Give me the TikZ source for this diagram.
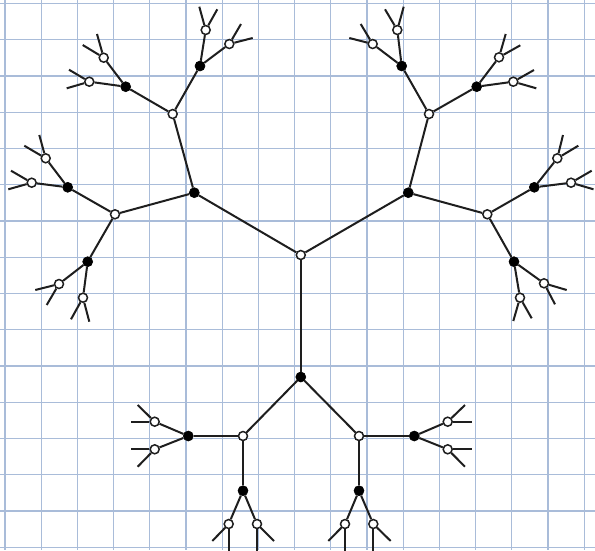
\documentclass[tikz,border=0pt]{standalone}
\usepackage{tikz}
\definecolor{gridblue}{HTML}{A9BCD9}
\definecolor{ink}{HTML}{1E1E1E}
\begin{document}
\begin{tikzpicture}[x=1pt,y=-1pt,
  wn/.style={circle,draw=ink,line width=1.5pt,fill=white,minimum size=9pt,inner sep=0pt},
  bn/.style={circle,fill=black,draw=black,line width=0.6pt,minimum size=10pt,inner sep=0pt},
  edge/.style={draw=ink,line width=2pt},
  gridline/.style={draw=gridblue,line width=1.1pt}]
\useasboundingbox (0,0) rectangle (595,550);
\fill[white] (0,0) rectangle (595,550);
% grid
\foreach \i in {0,...,16} \draw[gridline] ({5+36.2*\i},0) -- ({5+36.2*\i},550);
\foreach \j in {0,...,15} \draw[gridline] (0,{3.5+36.25*\j}) -- (595,{3.5+36.25*\j});
% ---------- nodes ----------
\node[wn] (r) at (300.8,255) {};
\node[bn] (d) at (300.8,377) {};
% bottom
\node[wn] (dl) at (243,436) {};
\node[wn] (dr) at (359,436) {};
\node[bn] (dll) at (188.3,436) {};
\node[bn] (dld) at (243,490.7) {};
\node[bn] (drr) at (414.3,436) {};
\node[bn] (drd) at (359,490.7) {};
\node[wn] (q1) at (154.7,421.7) {};
\node[wn] (q2) at (154.7,449.3) {};
\node[wn] (q3) at (228.7,524) {};
\node[wn] (q4) at (257,524) {};
\node[wn] (q5) at (447.7,421.7) {};
\node[wn] (q6) at (447.7,449.3) {};
\node[wn] (q7) at (345,524) {};
\node[wn] (q8) at (373.3,524) {};
\coordinate (q1a) at (130.7,421.7); \coordinate (q1b) at (137.7,405);
\coordinate (q2a) at (130.7,449.3); \coordinate (q2b) at (137.7,466.7);
\coordinate (q3a) at (228.7,552); \coordinate (q3b) at (212.3,541);
\coordinate (q4a) at (257,552); \coordinate (q4b) at (274,541);
\coordinate (q5a) at (471.7,421.7); \coordinate (q5b) at (465,405);
\coordinate (q6a) at (471.7,449.3); \coordinate (q6b) at (465,466.7);
\coordinate (q7a) at (345,552); \coordinate (q7b) at (328.3,541);
\coordinate (q8a) at (373.3,552); \coordinate (q8b) at (390.7,541);
% upper left
\node[bn] (ul) at (194.3,192.7) {};
\node[wn] (ua) at (172.7,114) {};
\node[wn] (ub) at (115,214.3) {};
\node[bn] (ua1) at (200,66) {};
\node[bn] (ua2) at (125.7,86.7) {};
\node[bn] (ub1) at (67.7,187.3) {};
\node[bn] (ub2) at (87.7,261.7) {};
\node[wn] (p1) at (205.7,30) {};
\node[wn] (p2) at (229.3,44) {};
\node[wn] (p3) at (103.7,57.7) {};
\node[wn] (p4) at (89.3,81.7) {};
\node[wn] (p5) at (45.7,158.3) {};
\node[wn] (p6) at (31.7,182.7) {};
\node[wn] (p7) at (59,284) {};
\node[wn] (p8) at (83,297.7) {};
\coordinate (p1a) at (199.3,6.7); \coordinate (p1b) at (217.3,9.3);
\coordinate (p2a) at (241,24); \coordinate (p2b) at (252.7,38);
\coordinate (p3a) at (97,34); \coordinate (p3b) at (82.7,45);
\coordinate (p4a) at (69,69.7); \coordinate (p4b) at (66.7,88.3);
\coordinate (p5a) at (39.3,135); \coordinate (p5b) at (24.3,145.7);
\coordinate (p6a) at (11,170.7); \coordinate (p6b) at (8.3,189.3);
\coordinate (p7a) at (35.3,290); \coordinate (p7b) at (46.7,305);
\coordinate (p8a) at (71,319.3); \coordinate (p8b) at (89.3,321.7);
% upper right
\node[bn] (ur) at (408.3,192.7) {};
\node[wn] (uc) at (429,114) {};
\node[wn] (ud) at (487.3,214.3) {};
\node[bn] (uc1) at (401.7,66) {};
\node[bn] (uc2) at (476.7,86.7) {};
\node[bn] (ud1) at (534.3,187.3) {};
\node[bn] (ud2) at (514,261.7) {};
\node[wn] (s1) at (397.3,30) {};
\node[wn] (s2) at (372.7,44) {};
\node[wn] (s3) at (499,57.3) {};
\node[wn] (s4) at (513.3,81.7) {};
\node[wn] (s5) at (557.3,158.3) {};
\node[wn] (s6) at (571,182.7) {};
\node[wn] (s7) at (544,283.3) {};
\node[wn] (s8) at (520,297.7) {};
\coordinate (s1a) at (385,9.3); \coordinate (s1b) at (403.7,6.7);
\coordinate (s2a) at (360.7,24); \coordinate (s2b) at (349.3,38);
\coordinate (s3a) at (505.7,34); \coordinate (s3b) at (520.3,45.3);
\coordinate (s4a) at (534,70); \coordinate (s4b) at (536.3,88.3);
\coordinate (s5a) at (563,135); \coordinate (s5b) at (578.3,145.7);
\coordinate (s6a) at (591.7,170.7); \coordinate (s6b) at (593.5,189.3);
\coordinate (s7a) at (566.7,290); \coordinate (s7b) at (555,304.3);
\coordinate (s8a) at (513.3,321); \coordinate (s8b) at (531.7,318.3);
% ---------- edges ----------
\draw[edge] (r) -- (d);
\draw[edge] (r) -- (ul);
\draw[edge] (r) -- (ur);
\draw[edge] (d) -- (dl);
\draw[edge] (d) -- (dr);
\draw[edge] (dl) -- (dll);
\draw[edge] (dl) -- (dld);
\draw[edge] (dr) -- (drr);
\draw[edge] (dr) -- (drd);
\draw[edge] (dll) -- (q1); \draw[edge] (dll) -- (q2);
\draw[edge] (dld) -- (q3); \draw[edge] (dld) -- (q4);
\draw[edge] (drr) -- (q5); \draw[edge] (drr) -- (q6);
\draw[edge] (drd) -- (q7); \draw[edge] (drd) -- (q8);
\foreach \n in {q1,q2,q3,q4,q5,q6,q7,q8,p1,p2,p3,p4,p5,p6,p7,p8,s1,s2,s3,s4,s5,s6,s7,s8}
  {\draw[edge] (\n) -- (\n a); \draw[edge] (\n) -- (\n b);}
\draw[edge] (ul) -- (ua); \draw[edge] (ul) -- (ub);
\draw[edge] (ua) -- (ua1); \draw[edge] (ua) -- (ua2);
\draw[edge] (ub) -- (ub1); \draw[edge] (ub) -- (ub2);
\draw[edge] (ua1) -- (p1); \draw[edge] (ua1) -- (p2);
\draw[edge] (ua2) -- (p3); \draw[edge] (ua2) -- (p4);
\draw[edge] (ub1) -- (p5); \draw[edge] (ub1) -- (p6);
\draw[edge] (ub2) -- (p7); \draw[edge] (ub2) -- (p8);
\draw[edge] (ur) -- (uc); \draw[edge] (ur) -- (ud);
\draw[edge] (uc) -- (uc1); \draw[edge] (uc) -- (uc2);
\draw[edge] (ud) -- (ud1); \draw[edge] (ud) -- (ud2);
\draw[edge] (uc1) -- (s1); \draw[edge] (uc1) -- (s2);
\draw[edge] (uc2) -- (s3); \draw[edge] (uc2) -- (s4);
\draw[edge] (ud1) -- (s5); \draw[edge] (ud1) -- (s6);
\draw[edge] (ud2) -- (s7); \draw[edge] (ud2) -- (s8);
\end{tikzpicture}
\end{document}
